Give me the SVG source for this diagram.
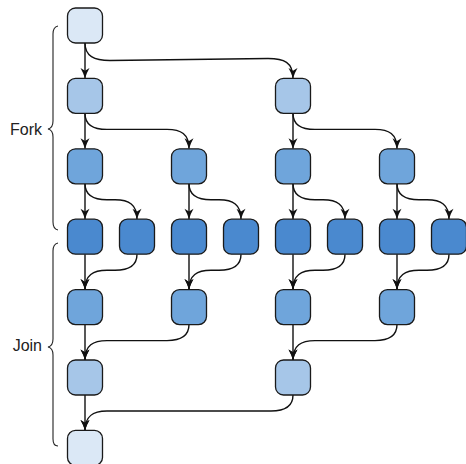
<svg xmlns="http://www.w3.org/2000/svg" width="466" height="464" viewBox="0 0 466 464">
<defs>
<style>
.n rect{stroke:#1a1a1a;stroke-width:1.3}
.l0{fill:#dbe8f6}.l1{fill:#a6c6e8}.l2{fill:#6fa5db}.l3{fill:#4a89cf}
.e path{fill:none;stroke:#111;stroke-width:1.4;marker-end:url(#ah)}
.br{fill:none;stroke:#222;stroke-width:1.1}
text{font-family:"Liberation Sans",Arial,sans-serif;font-size:16px;fill:#222}
</style>
<marker id="ah" markerUnits="userSpaceOnUse" markerWidth="11" markerHeight="10" viewBox="0 0 11 10" refX="11" refY="5" orient="auto">
<path d="M11,5 Q5.5,3.4 0.5,0.5 L3.3,5 L0.5,9.5 Q5.5,6.6 11,5 Z" fill="#111"/>
</marker>
</defs>
<rect width="466" height="464" fill="#fff"/>
<g id="braces">
<path class="br" d="M58,26 Q53,27 53,34 L53,121 Q53,128 48,129 Q53,130 53,137 L53,222 Q53,229 58,230"/>
<path class="br" d="M58,243 Q53,244 53,251 L53,339 Q53,346 48,347 Q53,348 53,355 L53,439 Q53,446 58,446"/>
<text x="42" y="134.5" text-anchor="end">Fork</text>
<text x="42" y="350.7" text-anchor="end">Join</text>
</g>
<g class="e" id="connectors">
<path d="M85,43 L85,78.4"/>
<path d="M85,113.4 L85,148.8"/>
<path d="M85,183.8 L85,219.2"/>
<path d="M85,254.2 L85,289.6"/>
<path d="M85,324.6 L85,360"/>
<path d="M85,395 L85,430.4"/>
<path d="M189,183.8 L189,219.2"/>
<path d="M189,254.2 L189,289.6"/>
<path d="M293,113.4 L293,148.8"/>
<path d="M293,183.8 L293,219.2"/>
<path d="M293,254.2 L293,289.6"/>
<path d="M293,324.6 L293,360"/>
<path d="M397,183.8 L397,219.2"/>
<path d="M397,254.2 L397,289.6"/>
<path d="M85,43 C85,56 94,60.5 110,60.5 L268,58.5 C284,58.5 293,62 293,78.4"/>
<path d="M85,113.4 C85,125 93,129.4 107,129.4 L167,129.4 C181,129.4 189,134 189,148.8"/>
<path d="M293,113.4 C293,125 301,129.4 315,129.4 L375,129.4 C389,129.4 397,134 397,148.8"/>
<path d="M85,183.8 C85,195 93,199.8 107,199.8 L115,199.8 C129,199.8 137,204.4 137,219.2"/>
<path d="M189,183.8 C189,195 197,199.8 211,199.8 L219,199.8 C233,199.8 241,204.4 241,219.2"/>
<path d="M293,183.8 C293,195 301,199.8 315,199.8 L323,199.8 C337,199.8 345,204.4 345,219.2"/>
<path d="M397,183.8 C397,195 405,199.8 419,199.8 L427,199.8 C441,199.8 449,204.4 449,219.2"/>
<path d="M137,254.2 C137,265.5 129,270.2 115,270.2 L107,270.2 C93,270.2 85,275 85,289.6"/>
<path d="M241,254.2 C241,265.5 233,270.2 219,270.2 L211,270.2 C197,270.2 189,275 189,289.6"/>
<path d="M345,254.2 C345,265.5 337,270.2 323,270.2 L315,270.2 C301,270.2 293,275 293,289.6"/>
<path d="M449,254.2 C449,265.5 441,270.2 427,270.2 L419,270.2 C405,270.2 397,275 397,289.6"/>
<path d="M189,324.6 C189,336 181,340.6 167,340.6 L107,340.6 C93,340.6 85,345.4 85,360"/>
<path d="M397,324.6 C397,336 389,340.6 375,340.6 L315,340.6 C301,340.6 293,345.4 293,360"/>
<path d="M293,395 C293,406.5 285,411 271,411 L107,411 C93,411 85,416 85,430.4"/>
</g>
<g class="n" id="r0c0"><rect class="l0" x="67.5" y="8" width="35" height="35" rx="8"/></g>
<g class="n" id="r1c0"><rect class="l1" x="67.5" y="78.4" width="35" height="35" rx="8"/></g>
<g class="n" id="r1c4"><rect class="l1" x="275.5" y="78.4" width="35" height="35" rx="8"/></g>
<g class="n" id="r2c0"><rect class="l2" x="67.5" y="148.8" width="35" height="35" rx="8"/></g>
<g class="n" id="r2c2"><rect class="l2" x="171.5" y="148.8" width="35" height="35" rx="8"/></g>
<g class="n" id="r2c4"><rect class="l2" x="275.5" y="148.8" width="35" height="35" rx="8"/></g>
<g class="n" id="r2c6"><rect class="l2" x="379.5" y="148.8" width="35" height="35" rx="8"/></g>
<g class="n" id="r3c0"><rect class="l3" x="67.5" y="219.2" width="35" height="35" rx="8"/></g>
<g class="n" id="r3c1"><rect class="l3" x="119.5" y="219.2" width="35" height="35" rx="8"/></g>
<g class="n" id="r3c2"><rect class="l3" x="171.5" y="219.2" width="35" height="35" rx="8"/></g>
<g class="n" id="r3c3"><rect class="l3" x="223.5" y="219.2" width="35" height="35" rx="8"/></g>
<g class="n" id="r3c4"><rect class="l3" x="275.5" y="219.2" width="35" height="35" rx="8"/></g>
<g class="n" id="r3c5"><rect class="l3" x="327.5" y="219.2" width="35" height="35" rx="8"/></g>
<g class="n" id="r3c6"><rect class="l3" x="379.5" y="219.2" width="35" height="35" rx="8"/></g>
<g class="n" id="r3c7"><rect class="l3" x="431.5" y="219.2" width="35" height="35" rx="8"/></g>
<g class="n" id="r4c0"><rect class="l2" x="67.5" y="289.6" width="35" height="35" rx="8"/></g>
<g class="n" id="r4c2"><rect class="l2" x="171.5" y="289.6" width="35" height="35" rx="8"/></g>
<g class="n" id="r4c4"><rect class="l2" x="275.5" y="289.6" width="35" height="35" rx="8"/></g>
<g class="n" id="r4c6"><rect class="l2" x="379.5" y="289.6" width="35" height="35" rx="8"/></g>
<g class="n" id="r5c0"><rect class="l1" x="67.5" y="360" width="35" height="35" rx="8"/></g>
<g class="n" id="r5c4"><rect class="l1" x="275.5" y="360" width="35" height="35" rx="8"/></g>
<g class="n" id="r6c0"><rect class="l0" x="67.5" y="430.4" width="35" height="35" rx="8"/></g>
</svg>
